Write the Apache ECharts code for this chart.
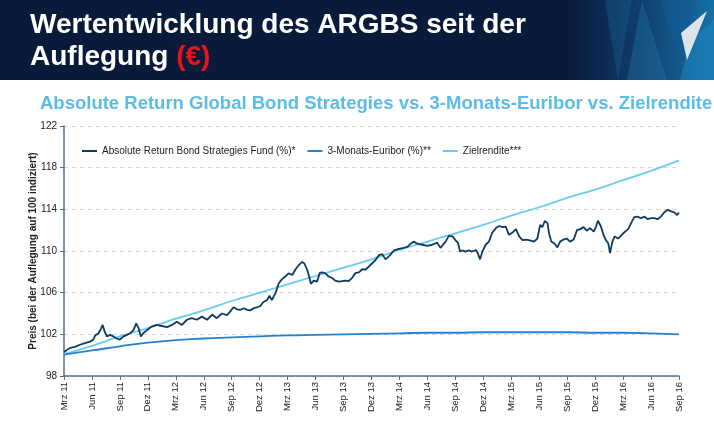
<!DOCTYPE html>
<html>
<head>
<meta charset="utf-8">
<script src="https://cdn.jsdelivr.net/npm/echarts/dist/echarts.min.js"></script>
<style>
  html, body { margin: 0; padding: 0; background: #ffffff; }
  #chart { width: 714px; height: 432px; }
</style>
</head>
<body>
<div id="chart"></div>
<script>
// Achsenbeschriftungen (quartalsweise, Monate ab Mrz 11)
const tickLabels = ['Mrz 11', 'Jun 11', 'Sep 11', 'Dez 11', 'Mrz 12', 'Jun 12', 'Sep 12', 'Dez 12',
    'Mrz 13', 'Jun 13', 'Sep 13', 'Dez 13', 'Mrz 14', 'Jun 14', 'Sep 14', 'Dez 14',
    'Mrz 15', 'Jun 15', 'Sep 15', 'Dez 15', 'Mrz 16', 'Jun 16', 'Sep 16'];

const quarterMonths = [0, 3, 6, 9, 12, 15, 18, 21, 24, 27, 30, 33, 36, 39, 42, 45, 48, 51, 54, 57, 60, 63, 66];

// Fonds (Monate seit Auflegung)
const fundMonths = [0, 0.65, 1.2, 1.7, 2.25, 2.8, 3.15, 3.35, 3.7, 3.95, 4.15, 4.35, 4.6, 4.95, 5.3, 5.65, 6.0, 6.4, 6.75, 7.1,
    7.45, 7.75, 8.0, 8.25, 8.5, 8.9, 9.4, 9.95, 10.5, 11.05, 11.6, 12.1, 12.65, 13.2, 13.7, 14.25, 14.8, 15.35, 15.9, 16.4,
    16.95, 17.5, 17.85, 18.2, 18.55, 18.9, 19.3, 19.65, 20.0, 20.35, 20.7, 21.05, 21.4, 21.8, 22.05, 22.3, 22.7, 23.05, 23.4, 23.75,
    24.1, 24.5, 24.85, 25.2, 25.55, 25.8, 26.1, 26.35, 26.5, 26.8, 27.15, 27.45, 27.7, 28.05, 28.4, 28.8, 29.1, 29.5, 29.85, 30.2,
    30.55, 30.9, 31.3, 31.65, 32.0, 32.35, 32.7, 33.05, 33.45, 33.8, 34.15, 34.5, 35.0, 35.4, 35.95, 36.45, 36.85, 37.2, 37.55, 37.9,
    38.45, 39.0, 39.5, 40.05, 40.4, 40.95, 41.3, 41.7, 42.0, 42.3, 42.5, 42.75, 43.1, 43.45, 43.8, 44.2, 44.4, 44.65, 44.9, 45.25,
    45.6, 45.95, 46.35, 46.7, 47.05, 47.4, 47.75, 48.1, 48.5, 48.85, 49.2, 49.55, 49.9, 50.45, 50.8, 51.1, 51.35, 51.6, 51.9, 52.05,
    52.3, 52.6, 52.95, 53.25, 53.6, 53.95, 54.3, 54.7, 55.05, 55.4, 55.75, 56.1, 56.45, 56.85, 57.1, 57.3, 57.6, 57.9, 58.15, 58.4,
    58.6, 58.85, 59.1, 59.5, 59.85, 60.2, 60.55, 60.85, 61.2, 61.55, 61.9, 62.3, 62.65, 63.0, 63.35, 63.7, 64.05, 64.4, 64.8, 65.15,
    65.5, 65.8, 66.0];
const fundValues = [100.3, 100.7, 100.8, 101.0, 101.15, 101.3, 101.5, 101.9, 102.1, 102.5, 102.9, 102.3, 101.8, 101.95, 101.8, 101.6, 101.5, 101.8, 101.95, 102.1,
    102.4, 103.05, 102.6, 101.8, 102.1, 102.4, 102.75, 102.9, 102.8, 102.7, 102.9, 103.2, 102.9, 103.4, 103.55, 103.4, 103.7, 103.4, 103.9, 103.55,
    104.0, 103.85, 104.2, 104.6, 104.4, 104.35, 104.5, 104.35, 104.3, 104.5, 104.6, 104.7, 105.1, 105.3, 105.7, 105.3, 105.95, 106.9, 107.3, 107.55,
    107.85, 107.7, 108.25, 108.65, 108.95, 108.8, 108.2, 107.4, 106.85, 107.15, 107.05, 107.9, 107.95, 107.85, 107.55, 107.4, 107.15, 107.05, 107.1, 107.15,
    107.1, 107.4, 107.9, 107.95, 108.25, 108.2, 108.5, 108.8, 109.15, 109.6, 109.7, 109.2, 109.6, 110.05, 110.2, 110.3, 110.4, 110.7, 110.9, 110.7,
    110.6, 110.5, 110.6, 110.8, 110.3, 110.9, 111.45, 111.4, 111.05, 110.75, 109.95, 110.05, 109.95, 110.05, 109.95, 110.1, 109.8, 109.2, 109.95, 110.6,
    110.9, 111.75, 112.2, 112.4, 112.3, 112.35, 111.55, 111.75, 112.1, 111.4, 111.05, 111.1, 111.05, 110.9, 111.2, 112.5, 112.3, 112.9, 112.65, 111.7,
    110.9, 110.75, 110.35, 110.9, 111.1, 111.2, 110.9, 111.1, 112.0, 112.1, 112.3, 111.95, 112.2, 111.85, 112.35, 112.9, 112.4, 111.55, 111.05, 110.75,
    109.8, 110.9, 111.4, 111.2, 111.55, 111.85, 112.1, 112.65, 113.25, 113.3, 113.15, 113.3, 113.05, 113.15, 113.15, 113.05, 113.3, 113.7, 113.95, 113.8,
    113.7, 113.45, 113.7];

const euriborValues = [100.05, 100.45, 100.85, 101.2, 101.45, 101.6, 101.7, 101.8, 101.9, 101.95, 102.0, 102.05,
    102.1, 102.15, 102.15, 102.2, 102.2, 102.2, 102.2, 102.15, 102.15, 102.1, 102.0];
const zielValues = [100.1, 100.9, 101.8, 102.6, 103.5, 104.3, 105.2, 106.0, 106.8, 107.6, 108.4, 109.2,
    110.1, 110.9, 111.7, 112.5, 113.4, 114.2, 115.1, 115.9, 116.8, 117.7, 118.7];

const seriesNames = ['Absolute Return Bond Strategies Fund (%)*', '3-Monats-Euribor (%)**', 'Zielrendite***'];
const seriesColors = ['#0f3b60', '#2580cf', '#6ccbf0'];

const fontFamily = '"Liberation Sans", Arial, sans-serif';
const axisColor = '#4d7190';

const chart = echarts.init(document.getElementById('chart'));

const fundData = fundMonths.map((m, i) => [m, fundValues[i]]);
const euriborData = quarterMonths.map((m, i) => [m, euriborValues[i]]);
const zielData = quarterMonths.map((m, i) => [m, zielValues[i]]);

const option = {
    backgroundColor: '#ffffff',
    animation: false,
    textStyle: { fontFamily: fontFamily },
    graphic: [
        // Kopfzeile
        { type: 'rect', z: -10, shape: { x: 0, y: 0, width: 714, height: 80 }, style: { fill: '#0a1a3b' } },
        {
            type: 'rect', z: -9, shape: { x: 570, y: 0, width: 144, height: 80 },
            style: {
                fill: new echarts.graphic.LinearGradient(0, 0, 1, 0, [
                    { offset: 0, color: 'rgba(10,26,59,1)' },
                    { offset: 0.5, color: '#0f3f6e' },
                    { offset: 1, color: '#1670a6' }
                ])
            }
        },
        { type: 'polygon', z: -8, shape: { points: [[605, 0], [632, 0], [618, 80]] }, style: { fill: 'rgba(30,100,150,0.35)' } },
        { type: 'polygon', z: -8, shape: { points: [[642, 0], [667, 80], [627, 80]] }, style: { fill: 'rgba(40,120,170,0.35)' } },
        { type: 'polygon', z: -8, shape: { points: [[660, 0], [700, 0], [675, 50]] }, style: { fill: 'rgba(20,90,150,0.45)' } },
        { type: 'polygon', z: -8, shape: { points: [[690, 40], [714, 20], [714, 80], [680, 80]] }, style: { fill: 'rgba(30,140,200,0.45)' } },
        { type: 'polygon', z: -7, shape: { points: [[681, 33], [707, 11], [687, 60]] }, style: { fill: '#dde3ea' } },
        {
            type: 'text', left: 30, top: 11,
            style: {
                text: 'Wertentwicklung des ARGBS seit der',
                fill: '#ffffff', font: 'bold 28px ' + fontFamily
            }
        },
        {
            type: 'text', left: 30, top: 43,
            style: {
                text: '{w|Auflegung }{r|(€)}',
                rich: {
                    w: { fill: '#ffffff', font: 'bold 28px ' + fontFamily },
                    r: { fill: '#e8141b', font: 'bold 28px ' + fontFamily }
                }
            }
        },
        {
            type: 'text', left: 40, top: 94,
            style: {
                text: 'Absolute Return Global Bond Strategies vs. 3-Monats-Euribor vs. Zielrendite',
                fill: '#5cbce9', font: 'bold 18.5px ' + fontFamily
            }
        }
    ],
    legend: {
        left: 77,
        top: 141,
        itemWidth: 15,
        itemHeight: 2,
        itemGap: 12,
        icon: 'rect',
        textStyle: { fontSize: 10, color: '#222222', fontFamily: fontFamily },
        data: seriesNames
    },
    grid: { left: 64, right: 35, top: 126, bottom: 56, containLabel: false },
    xAxis: {
        type: 'value',
        min: 0,
        max: 66,
        interval: 3,
        axisLine: { show: true, lineStyle: { color: axisColor, width: 1.5 } },
        axisTick: { show: true, length: 4, lineStyle: { color: axisColor } },
        splitLine: { show: false },
        axisLabel: {
            rotate: 90,
            fontSize: 9.5,
            color: '#222222',
            margin: 6,
            formatter: function (v) { return tickLabels[Math.round(v / 3)]; }
        }
    },
    yAxis: {
        type: 'value',
        min: 98,
        max: 122,
        interval: 4,
        name: 'Preis (bei der Auflegung auf 100 indiziert)',
        nameLocation: 'middle',
        nameGap: 26,
        nameMoveOverlap: false,
        nameTextStyle: { fontSize: 10, fontWeight: 'bold', color: '#222222' },
        axisLine: { show: true, lineStyle: { color: axisColor, width: 1.5 } },
        axisTick: { show: true, length: 4, lineStyle: { color: axisColor } },
        axisLabel: { fontSize: 10, color: '#222222', margin: 7 },
        splitLine: { show: true, lineStyle: { color: '#d6d6d6', type: [4, 4], width: 1 } }
    },
    series: [
        {
            name: seriesNames[0], type: 'line', data: fundData, symbol: 'none',
            lineStyle: { color: seriesColors[0], width: 1.8 }, itemStyle: { color: seriesColors[0] }, z: 4
        },
        {
            name: seriesNames[1], type: 'line', data: euriborData, symbol: 'none', smooth: true,
            lineStyle: { color: seriesColors[1], width: 1.8 }, itemStyle: { color: seriesColors[1] }, z: 3
        },
        {
            name: seriesNames[2], type: 'line', data: zielData, symbol: 'none', smooth: true,
            lineStyle: { color: seriesColors[2], width: 1.8 }, itemStyle: { color: seriesColors[2] }, z: 2
        }
    ]
};

chart.setOption(option);
window.addEventListener('resize', function () { chart.resize(); });
</script>
</body>
</html>
